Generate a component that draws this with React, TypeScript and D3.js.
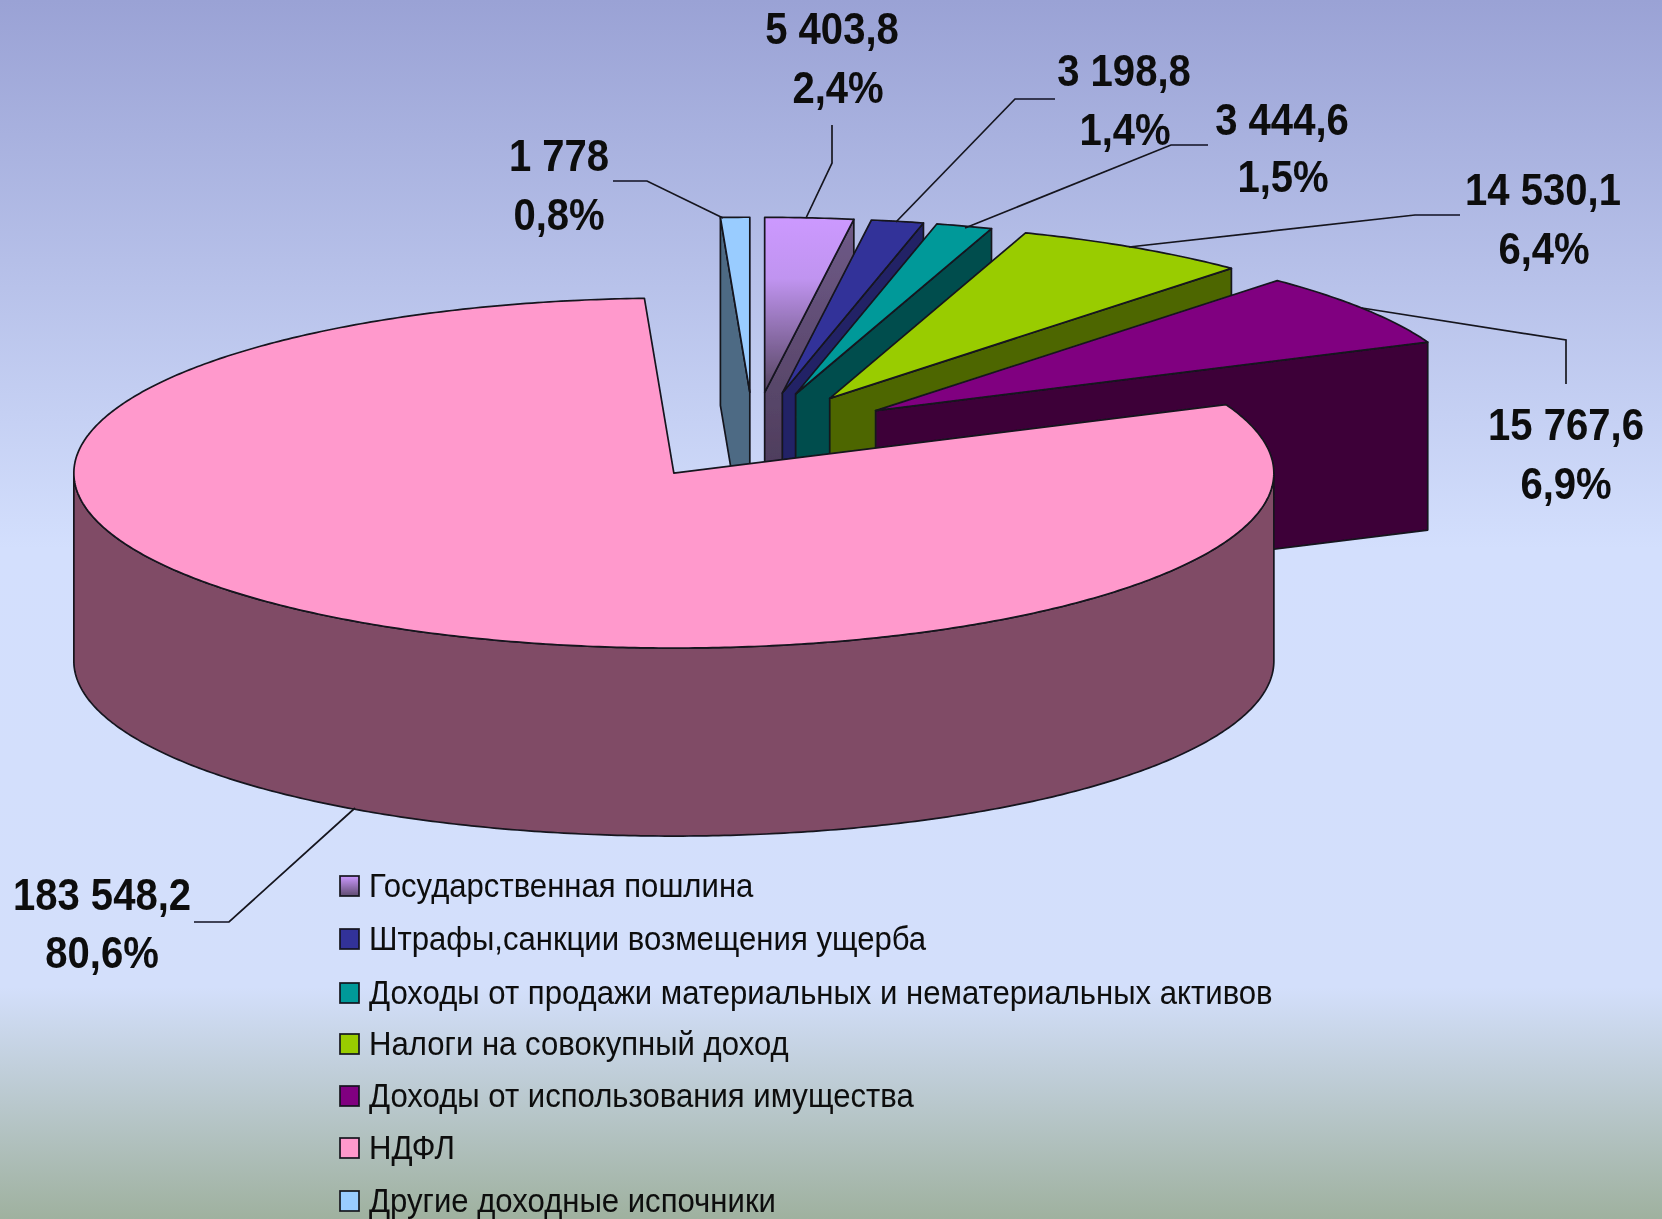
import React from "react";
import * as d3 from "d3";

const CATEGORIES = [
  "Государственная пошлина",
  "Штрафы,санкции возмещения ущерба",
  "Доходы от продажи материальных и нематериальных активов",
  "Налоги на совокупный доход",
  "Доходы от использования имущества",
  "НДФЛ",
  "Другие доходные испочники",
];
const VALUES = [5403.8, 3198.8, 3444.6, 14530.1, 15767.6, 183548.2, 1778];
const VALUE_LABELS = ["5 403,8", "3 198,8", "3 444,6", "14 530,1", "15 767,6", "183 548,2", "1 778"];
const PERCENT_LABELS = ["2,4%", "1,4%", "1,5%", "6,4%", "6,9%", "80,6%", "0,8%"];

const TOP_COLORS = ["url(#gospTop)", "#333399", "#009999", "#99cc00", "#800080", "#ff99cc", "#99ccff"];
const WALL_COLORS = ["url(#gospWall)", "#222266", "#004d4d", "#4d6600", "#3d0038", "#804c66", "#4d6a84"];

// layout (separate from data): label centres and leader elbows
const LABEL_POS: [number, number, number, number][] = [
  [832, 29, 838, 88],
  [1124, 71, 1125, 130],
  [1282, 120, 1283, 177],
  [1543, 190, 1544, 249],
  [1566, 425, 1566, 484],
  [102, 895, 102, 953],
  [559, 156, 559, 215],
];
const LEADERS: [number, number][][] = [
  [[832, 125], [832, 163], [806, 218]],
  [[1055, 99], [1015, 99], [896, 222]],
  [[1208, 145], [1171, 145], [965, 228]],
  [[1460, 215], [1415, 215], [1129, 247]],
  [[1566, 384], [1566, 340], [1362, 308]],
  [[194, 922], [229, 922], [355, 808]],
  [[613, 181], [647, 181], [723, 218]],
];
const LEGEND_Y = [885, 938, 992, 1043, 1095, 1147, 1200];

const RX = 600, RY = 175, DEPTH = 188, EXPLODE = 0.25;
const CX = 753.5, CY = 436;
const EDGE = "#14141f";

type Pt = [number, number];

export default function App() {
  const arcs = d3.pie<number>().sort(null).startAngle(0).endAngle(2 * Math.PI)(VALUES);
  const line = d3.line();

  const slices = arcs.map((a, i) => {
    const mid = (a.startAngle + a.endAngle) / 2;
    const c: Pt = [CX + EXPLODE * RX * Math.sin(mid), CY - EXPLODE * RY * Math.cos(mid)];
    const pt = (t: number, dz = 0): Pt => [c[0] + RX * Math.sin(t), c[1] - RY * Math.cos(t) + dz];
    const arcPts = (t0: number, t1: number, dz = 0): Pt[] => {
      const n = Math.max(2, Math.ceil((t1 - t0) / 0.01));
      return d3.range(n + 1).map((k) => pt(t0 + ((t1 - t0) * k) / n, dz));
    };
    const top = line([c, ...arcPts(a.startAngle, a.endAngle)]) + "Z";
    const faces: string[] = [];
    const radial = (t: number) =>
      line([c, pt(t), pt(t, DEPTH), [c[0], c[1] + DEPTH]]) + "Z";
    if (Math.sin(a.endAngle) > 1e-6) faces.push(radial(a.endAngle));
    if (Math.sin(a.startAngle) < -1e-6) faces.push(radial(a.startAngle));
    const w0 = Math.max(a.startAngle, Math.PI / 2);
    const w1 = Math.min(a.endAngle, (3 * Math.PI) / 2);
    if (w1 > w0) faces.push(line([...arcPts(w0, w1), ...arcPts(w0, w1, DEPTH).reverse()]) + "Z");
    return { top, faces, i };
  });

  const lbl = {
    fontFamily: "'Liberation Sans', Arial, sans-serif",
    fontWeight: 700,
    fontSize: 44,
    fill: "#0a0a0a",
    textAnchor: "middle" as const,
  };

  return (
    <svg width={1662} height={1219} viewBox="0 0 1662 1219" style={{ position: "fixed", left: 0, top: 0 }}>
      <defs>
        <linearGradient id="bg" x1="0" y1="0" x2="0" y2="1">
          <stop offset="0" stopColor="#9aa2d5" />
          <stop offset="0.45" stopColor="#d3dffd" />
          <stop offset="0.81" stopColor="#d3dffb" />
          <stop offset="1" stopColor="#9fb19f" />
        </linearGradient>
        <linearGradient id="gospTop" x1="0" y1="0" x2="0" y2="1">
          <stop offset="0" stopColor="#cc99ff" />
          <stop offset="0.35" stopColor="#c094f0" />
          <stop offset="1" stopColor="#54445f" />
        </linearGradient>
        <linearGradient id="gospWall" x1="0" y1="0" x2="0" y2="1">
          <stop offset="0" stopColor="#6f5a88" />
          <stop offset="1" stopColor="#3f3048" />
        </linearGradient>
        <linearGradient id="gospSwatch" x1="0" y1="0" x2="0" y2="1">
          <stop offset="0" stopColor="#cc99ff" />
          <stop offset="1" stopColor="#5f4c70" />
        </linearGradient>
        <filter id="soft" x="0" y="0" width="1" height="1" filterUnits="objectBoundingBox">
          <feGaussianBlur stdDeviation="0.6" />
        </filter>
      </defs>
      <rect width={1662} height={1219} fill="url(#bg)" />

      <g filter="url(#soft)">
        <rect width={1662} height={1219} fill="none" />
        {[6, 0, 1, 2, 3, 4, 5].map((idx) => {
          const s = slices[idx];
          return (
            <g key={idx} stroke={EDGE} strokeWidth={1.7} strokeLinejoin="round">
              {s.faces.map((f, k) => (
                <path key={k} d={f} fill={WALL_COLORS[idx]} />
              ))}
              <path d={s.top} fill={TOP_COLORS[idx]} />
            </g>
          );
        })}

        {LEADERS.map((pts, i) => (
          <path key={i} d={line(pts) as string} fill="none" stroke="#14141f" strokeWidth={1.7} />
        ))}

        {VALUE_LABELS.map((v, i) => {
          const [x1, y1, x2, y2] = LABEL_POS[i];
          return (
            <g key={i} style={lbl as any}>
              <text transform={`translate(${x1},${y1}) scale(0.91,1)`} dy="0.35em">{v}</text>
              <text transform={`translate(${x2},${y2}) scale(0.91,1)`} dy="0.35em">{PERCENT_LABELS[i]}</text>
            </g>
          );
        })}

        {CATEGORIES.map((c, i) => {
          const y = LEGEND_Y[i];
          const col = i === 0 ? "url(#gospSwatch)" : TOP_COLORS[i];
          return (
            <g key={c}>
              <rect x={340} y={y - 9} width={19} height={20} fill={col} stroke={EDGE} strokeWidth={1.7} />
              <text
                transform={`translate(369,${y}) scale(0.915,1)`}
                dy="0.35em"
                fontFamily="'Liberation Sans', Arial, sans-serif"
                fontSize={34}
                fill="#0a0a0a"
              >
                {c}
              </text>
            </g>
          );
        })}
      </g>
    </svg>
  );
}
